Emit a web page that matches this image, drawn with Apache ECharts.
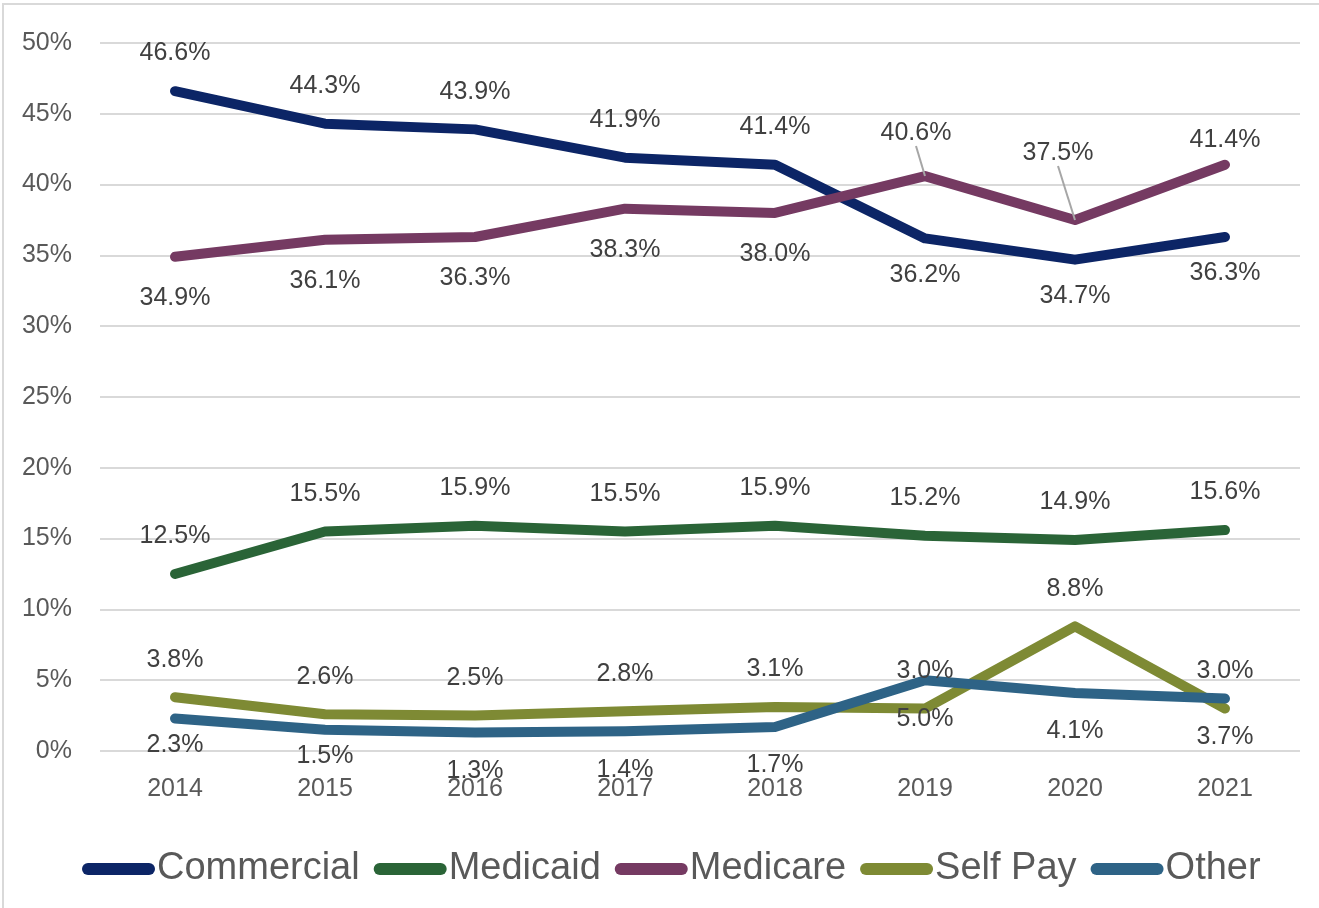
<!DOCTYPE html>
<html>
<head>
<meta charset="utf-8">
<script src="https://cdn.jsdelivr.net/npm/echarts@6/dist/echarts.min.js"></script>
<style>
html,body{margin:0;padding:0;background:#fff;}
#chart{width:1319px;height:908px;}
</style>
</head>
<body>
<div id="chart"></div>
<script>
const years = ['2014','2015','2016','2017','2018','2019','2020','2021'];
const commercial = [46.6, 44.3, 43.9, 41.9, 41.4, 36.2, 34.7, 36.3];
const medicaid   = [12.5, 15.5, 15.9, 15.5, 15.9, 15.2, 14.9, 15.6];
const medicare   = [34.9, 36.1, 36.3, 38.3, 38.0, 40.6, 37.5, 41.4];
const selfPay    = [3.8, 2.6, 2.5, 2.8, 3.1, 3.0, 8.8, 3.0];
const other      = [2.3, 1.5, 1.3, 1.4, 1.7, 5.0, 4.1, 3.7];
const yTicks = [0, 5, 10, 15, 20, 25, 30, 35, 40, 45, 50];

const FONT = '"Liberation Sans", Arial, sans-serif';
const labelColor = '#404040';

function items(values, posFn, distFn, lineFn) {
  return values.map((v, i) => ({
    value: v,
    label: { position: posFn(i), distance: distFn ? distFn(i) : 25 },
    labelLine: { show: lineFn ? lineFn(i) : false, lineStyle: { color: '#a6a6a6', width: 2 } }
  }));
}

function mkSeries(name, color, data, extra) {
  return Object.assign({
    name: name,
    type: 'line',
    data: data,
    symbol: 'circle',
    symbolSize: 0.1,
    showSymbol: true,
    itemStyle: { color: color },
    lineStyle: { color: color, width: 10, cap: 'round', join: 'round' },
    label: {
      show: true,
      formatter: p => p.value.toFixed(1) + '%',
      color: labelColor,
      fontFamily: FONT,
      fontSize: 25
    },
    labelLine: { show: false },
    emphasis: { disabled: true },
    animation: false
  }, extra || {});
}

const chart = echarts.init(document.getElementById('chart'), null, { renderer: 'canvas' });

const option = {
  backgroundColor: '#fff',
  animation: false,
  graphic: [{
    type: 'rect',
    shape: { x: 3, y: 4, width: 1330, height: 920 },
    style: { fill: 'none', stroke: '#d9d9d9', lineWidth: 2 },
    silent: true
  }],
  grid: { left: 100, right: 19, top: 43, bottom: 157, containLabel: false },
  legend: {
    bottom: 15,
    left: 77,
    itemWidth: 73,
    itemHeight: 12,
    itemGap: 14,
    icon: 'path://M6,0 H67 A6,6 0 0 1 67,12 H6 A6,6 0 0 1 6,0 Z',
    textStyle: { fontFamily: FONT, fontSize: 38, color: '#595959', padding: [0, 0, 0, -3] },
    data: ['Commercial', 'Medicaid', 'Medicare', 'Self Pay', 'Other']
  },
  xAxis: {
    type: 'category',
    data: years,
    boundaryGap: true,
    axisLine: { show: false },
    axisTick: { show: false },
    axisLabel: { color: '#595959', fontFamily: FONT, fontSize: 25, margin: 26 }
  },
  yAxis: {
    type: 'value',
    min: yTicks[0],
    max: yTicks[yTicks.length - 1],
    interval: yTicks[1] - yTicks[0],
    axisLine: { show: false },
    axisTick: { show: false },
    splitLine: { lineStyle: { color: '#d9d9d9', width: 2 } },
    axisLabel: { color: '#595959', fontFamily: FONT, fontSize: 25, margin: 28, formatter: '{value}%' }
  },
  series: [
    mkSeries('Commercial', '#0c2566',
      items(commercial, i => commercial[i] > medicare[i] ? 'top' : 'bottom', i => commercial[i] > medicare[i] ? 25 : 24)),
    mkSeries('Medicaid', '#2a6437',
      items(medicaid, () => 'top')),
    mkSeries('Medicare', '#753a62',
      items(medicare, i => medicare[i] > commercial[i] ? 'top' : 'bottom',
        i => medicare[i] > commercial[i] ? (i === 7 ? 12 : 16) : 29,
        i => i === 5 || i === 6),
      {
        labelLayout: function (p) {
          if (p.dataIndex === 5) return { dx: -9, dy: -14 };
          if (p.dataIndex === 6) return { dx: -17, dy: -38 };
          return {};
        }
      }),
    mkSeries('Self Pay', '#7e8a34',
      items(selfPay, () => 'top')),
    mkSeries('Other', '#2e6386',
      items(other, () => 'bottom', i => i < 2 ? 14 : 26))
  ]
};

chart.setOption(option);
</script>
</body>
</html>
